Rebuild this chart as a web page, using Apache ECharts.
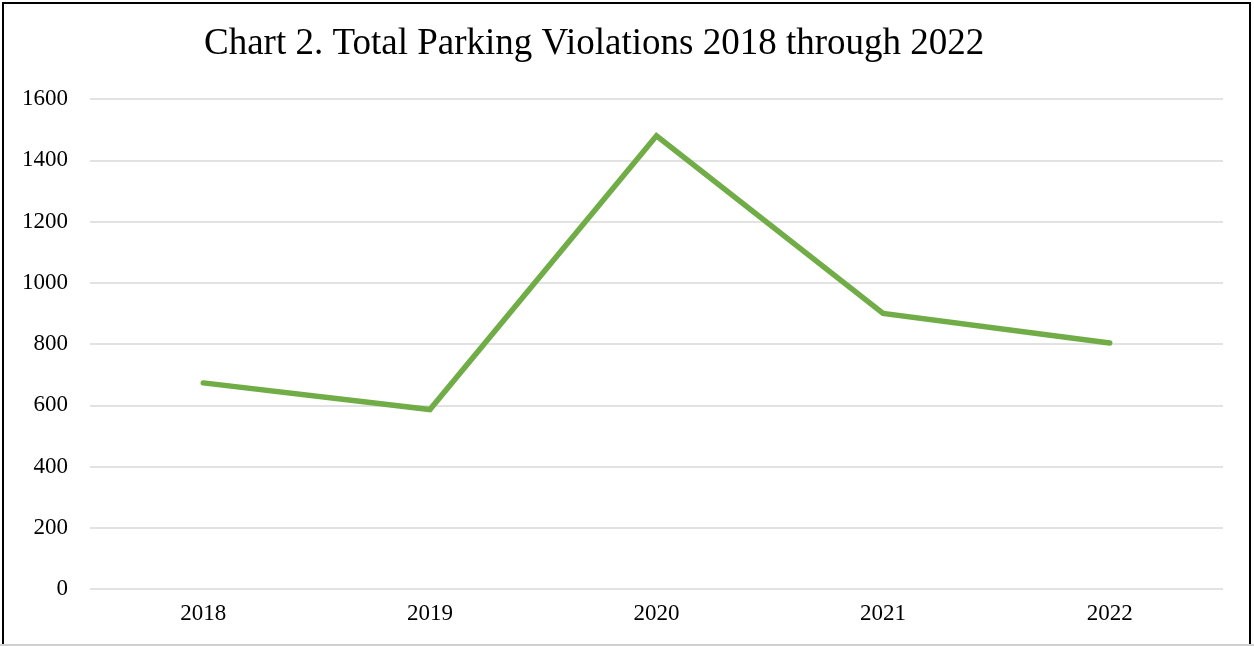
<!DOCTYPE html>
<html>
<head>
<meta charset="utf-8">
<script src="https://cdn.jsdelivr.net/npm/echarts@6/dist/echarts.min.js"></script>
<style>
  html, body { margin: 0; padding: 0; background: #fff; }
  #chart { width: 1254px; height: 646px; }
</style>
</head>
<body>
<div id="chart"></div>
<script>
// data
const years = ['2018', '2019', '2020', '2021', '2022']
const violations = [673, 586, 1480, 900, 803]
const yTicks = { min: 0, max: 1600, step: 200 }

const chart = echarts.init(document.getElementById('chart'))
const serif = '"Liberation Serif", "Times New Roman", serif'

chart.setOption({
  backgroundColor: '#fff',
  animation: false,
  title: {
    text: 'Chart 2. Total Parking Violations 2018 through 2022',
    left: 199,
    top: 21,
    textStyle: {
      fontFamily: serif,
      fontSize: 37,
      fontWeight: 'normal',
      color: '#000'
    }
  },
  grid: {
    left: 90,
    right: 31,
    top: 99,
    bottom: 57
  },
  xAxis: {
    type: 'category',
    data: years,
    boundaryGap: true,
    axisLine: { show: false },
    axisTick: { show: false },
    axisLabel: {
      margin: 13,
      fontFamily: serif,
      fontSize: 23,
      color: '#000'
    }
  },
  yAxis: {
    type: 'value',
    min: yTicks.min,
    max: yTicks.max,
    interval: yTicks.step,
    axisLine: { show: false },
    axisTick: { show: false },
    axisLabel: {
      margin: 22,
      fontFamily: serif,
      fontSize: 23,
      color: '#000',
      formatter: v => String(v)
    },
    splitLine: {
      lineStyle: { color: '#d9d9d9', width: 1.5 }
    }
  },
  series: [
    {
      type: 'line',
      data: violations,
      showSymbol: false,
      symbol: 'none',
      lineStyle: {
        color: '#70ad47',
        width: 5.5,
        cap: 'round',
        join: 'miter'
      }
    }
  ],
  graphic: [
    {
      type: 'rect',
      shape: { x: 3, y: 3, width: 1247, height: 700 },
      style: { fill: 'none', stroke: '#000', lineWidth: 2 },
      silent: true
    },
    {
      type: 'rect',
      shape: { x: 0, y: 644, width: 1254, height: 2 },
      style: { fill: '#d0d0d0' },
      silent: true
    }
  ]
})
</script>
</body>
</html>
